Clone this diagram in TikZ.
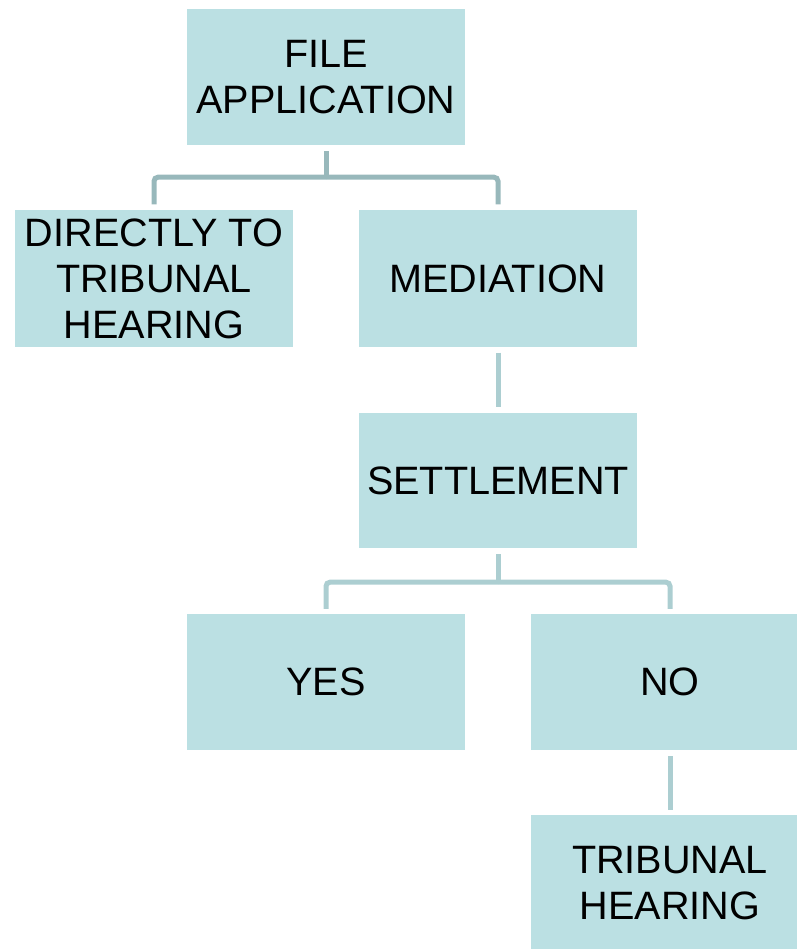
\documentclass[tikz,border=0pt]{standalone}
\usepackage{fontspec}
\setmainfont{Liberation Sans}
\definecolor{boxfill}{RGB}{187,224,227}
\definecolor{connA}{RGB}{152,184,187}
\definecolor{connB}{RGB}{172,206,209}
\begin{document}
\begin{tikzpicture}[x=1pt,y=-1pt,
  box/.style={fill=boxfill, draw=none, minimum width=278pt, minimum height=136pt,
    inner sep=0pt, align=center, font=\fontsize{39.6}{46}\selectfont, text=black},
  conn/.style={line width=5pt, rounded corners=4pt},
]
\useasboundingbox (0,0) rectangle (796,949);
\node[box] (file) at (326,77) {FILE\\APPLICATION};
\node[box] (direct) at (154,278.5) {DIRECTLY TO\\TRIBUNAL\\HEARING};
\node[box] (med) at (498,278.5) {MEDIATION};
\node[box, minimum height=135pt] (settle) at (498,480.5) {SETTLEMENT};
\node[box] (yes) at (326,682) {YES};
\node[box] (no) at (670,682) {NO};
\node[box] (trib) at (670,883) {TRIBUNAL\\HEARING};

\path (file.south) ++(0,32) coordinate (j1);
\path (settle.south) ++(0,34) coordinate (j2);

\draw[conn, connA, shorten <=6pt] (file.south) -- (j1);
\draw[conn, connA, shorten >=6pt] (j1) -| (direct.north);
\draw[conn, connA, shorten >=6pt] (j1) -| (med.north);
\draw[conn, connB, shorten <=6pt, shorten >=6pt] (med.south) -- (settle.north);
\draw[conn, connB, shorten <=6pt] (settle.south) -- (j2);
\draw[conn, connB, shorten >=5pt] (j2) -| (yes.north);
\draw[conn, connB, shorten >=5pt] (j2) -| (no.north);
\draw[conn, connB, shorten <=6pt, shorten >=5pt] (no.south) -- (trib.north);
\end{tikzpicture}
\end{document}
